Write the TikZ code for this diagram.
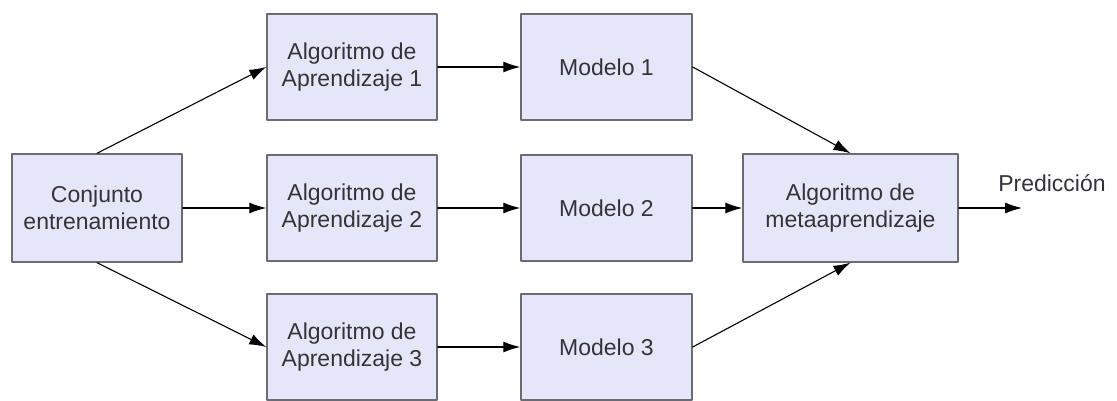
\documentclass[tikz,border=0pt]{standalone}
\usepackage{fontspec}
\setmainfont{Liberation Sans}
\usetikzlibrary{arrows.meta}
\definecolor{lavbox}{rgb}{0.902,0.902,0.98}
\definecolor{grayline}{rgb}{0.42,0.42,0.45}
\definecolor{txtgray}{rgb}{0.2,0.2,0.22}
\tikzset{box/.style={draw=grayline,line width=1.4pt,fill=lavbox,minimum height=106pt,align=center,inner sep=0pt,text=txtgray,font=\fontsize{23}{27}\selectfont}}
\begin{document}
\begin{tikzpicture}[line cap=round,line join=round,>={Latex[length=17pt,width=11pt]},x=1pt,y=-1pt]
\useasboundingbox (0,0) rectangle (1117,401);
\node[box,minimum width=170pt,minimum height=108pt] (conj) at (97,208) {Conjunto\\entrenamiento};
\node[box,minimum width=170pt] (alg1) at (352,67) {Algoritmo de\\Aprendizaje 1};
\node[box,minimum width=170pt] (alg2) at (352,208) {Algoritmo de\\Aprendizaje 2};
\node[box,minimum width=170pt] (alg3) at (352,347) {Algoritmo de\\Aprendizaje 3};
\node[box,minimum width=171pt] (mod1) at (606.5,67) {Modelo 1};
\node[box,minimum width=171pt] (mod2) at (606.5,208) {Modelo 2};
\node[box,minimum width=171pt] (mod3) at (606.5,347) {Modelo 3};
\node[box,minimum width=215pt,minimum height=108pt] (meta) at (850.5,208) {Algoritmo de\\metaaprendizaje};
\coordinate (pred) at (1022,208);
\node[text=txtgray,font=\fontsize{23}{27}\selectfont] (predlab) at (1052,183) {Predicción};
% conexiones
\draw[->,line width=1.1pt] (conj.north) -- (alg1.west);
\draw[->,line width=1.1pt] (conj.east) -- (alg2.west);
\draw[->,line width=1.1pt] (conj.south) -- (alg3.west);
\draw[->,line width=1.1pt] (alg1) -- (mod1);
\draw[->,line width=1.1pt] (alg2) -- (mod2);
\draw[->,line width=1.1pt] (alg3) -- (mod3);
\draw[->,line width=1.1pt] (mod1.east) -- (meta.north);
\draw[->,line width=1.1pt] (mod2) -- (meta);
\draw[->,line width=1.1pt] (mod3.east) -- (meta.south);
\draw[->,line width=1.1pt] (meta) -- (pred);
\end{tikzpicture}
\end{document}
